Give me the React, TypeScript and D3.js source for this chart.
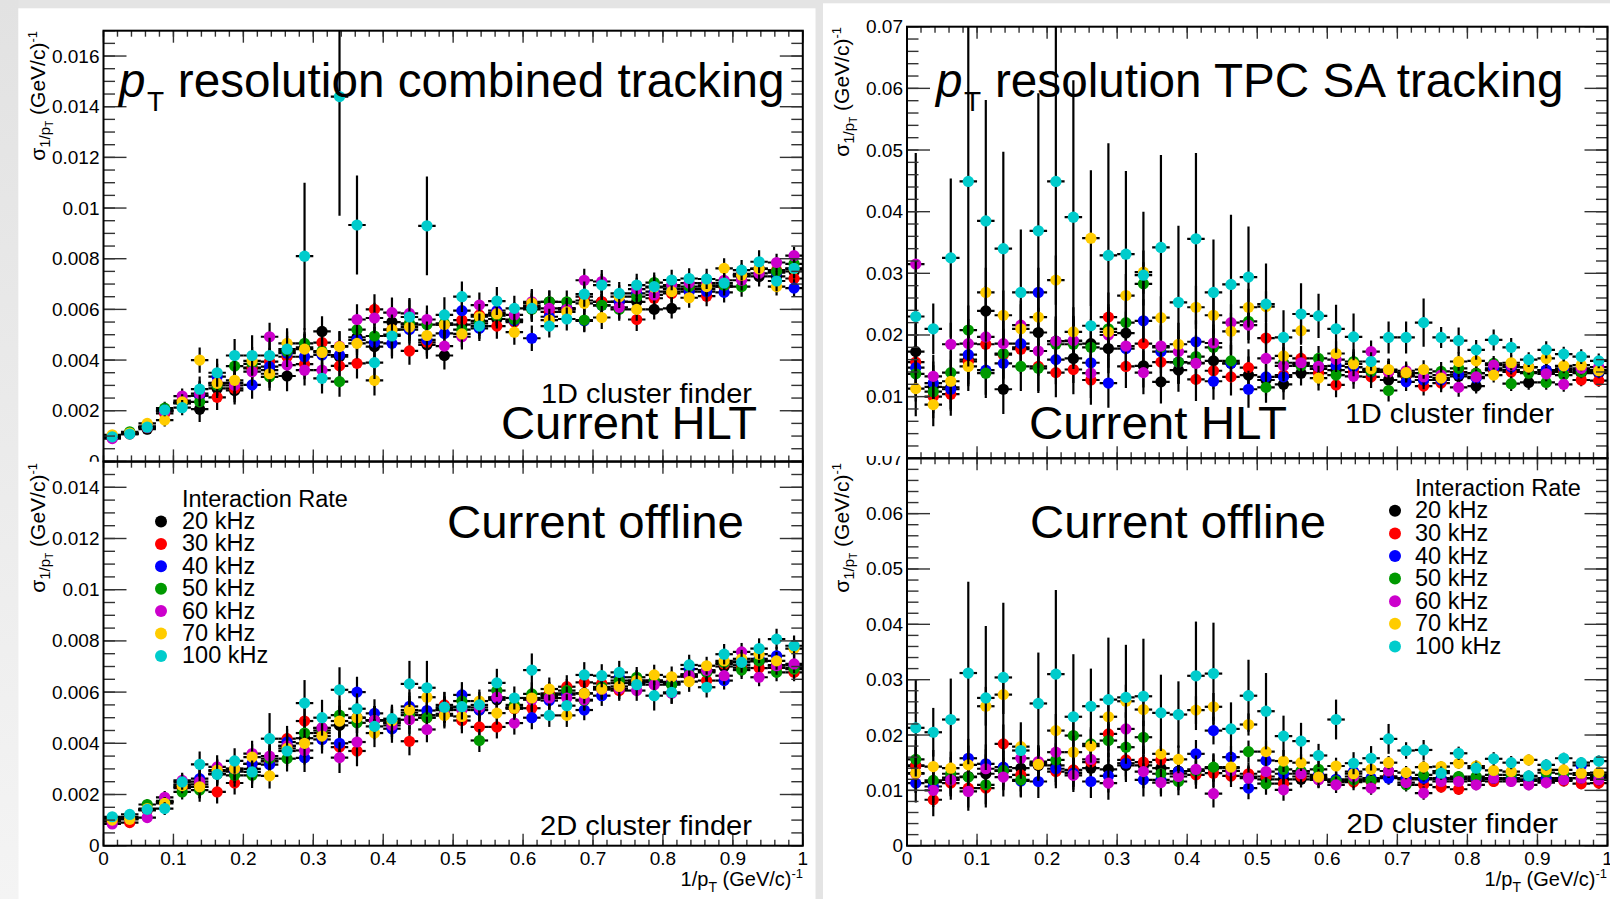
import React from 'react';
import * as d3 from 'd3';

const W = 1610;
const H = 899;
const FONT = '"Liberation Sans", Arial, Helvetica, sans-serif';

const rates = ['20 kHz', '30 kHz', '40 kHz', '50 kHz', '60 kHz', '70 kHz', '100 kHz'];
const rateColors = ['#000000', '#ff0000', '#0000ff', '#009900', '#cc00cc', '#ffcc00', '#00cccc'];
const binWidth = 0.025;

// rows = 1/pT bins (0.025 wide), columns = rates (20,30,40,50,60,70,100 kHz), units of 1e-3
const combinedHlt = [
  [0.95, 0.93, 0.94, 0.96, 0.90, 1.05, 0.97],
  [1.10, 1.08, 1.10, 1.17, 1.10, 1.12, 1.08],
  [1.27, 1.33, 1.35, 1.38, 1.36, 1.50, 1.35],
  [2.00, 1.89, 2.00, 2.10, 1.96, 1.63, 2.03],
  [2.30, 2.40, 2.30, 2.30, 2.58, 2.35, 2.12],
  [2.06, 2.60, 2.60, 2.35, 2.68, 4.00, 2.85],
  [2.88, 2.53, 3.35, 3.00, 3.10, 3.08, 3.50],
  [2.80, 2.88, 3.10, 3.76, 3.00, 3.20, 4.18],
  [3.67, 3.70, 3.02, 3.85, 3.54, 3.97, 4.18],
  [3.60, 3.94, 3.74, 3.34, 4.92, 3.46, 4.18],
  [3.37, 4.13, 4.27, 4.35, 3.80, 4.66, 4.43],
  [4.50, 3.84, 4.13, 4.66, 3.60, 4.43, 8.10],
  [5.13, 4.69, 4.20, 4.35, 3.60, 4.30, 3.28],
  [4.13, 3.77, 4.20, 3.15, 4.55, 4.53, 14.4],
  [4.90, 3.87, 4.80, 5.20, 5.60, 4.66, 9.33],
  [4.53, 6.00, 4.70, 4.95, 5.66, 3.20, 3.90],
  [5.50, 5.20, 4.66, 5.00, 5.87, 5.20, 4.95],
  [5.40, 4.36, 5.20, 5.45, 5.84, 5.30, 5.70],
  [4.60, 4.70, 4.80, 5.40, 5.60, 4.97, 9.30],
  [4.18, 5.40, 5.05, 5.45, 4.55, 5.40, 5.78],
  [5.40, 5.58, 5.95, 5.20, 4.92, 5.03, 6.50],
  [5.55, 5.78, 5.25, 5.45, 6.17, 5.71, 5.34],
  [5.62, 5.34, 5.95, 5.75, 5.85, 5.82, 6.33],
  [5.58, 5.50, 5.55, 5.60, 5.78, 5.10, 6.04],
  [6.10, 6.15, 4.86, 6.00, 6.30, 6.25, 6.04],
  [6.30, 5.90, 5.71, 6.30, 6.04, 5.58, 5.34],
  [6.00, 6.05, 6.04, 6.30, 6.00, 5.90, 5.62],
  [6.35, 6.50, 5.55, 5.58, 7.15, 6.24, 6.60],
  [6.30, 6.30, 6.16, 6.16, 7.10, 5.68, 6.96],
  [6.30, 6.30, 6.30, 6.00, 6.08, 6.50, 6.63],
  [6.30, 5.60, 6.63, 6.50, 6.80, 6.00, 6.96],
  [6.00, 6.44, 6.70, 7.06, 6.57, 6.87, 6.90],
  [6.04, 6.63, 6.80, 6.90, 6.96, 6.70, 7.16],
  [6.80, 6.80, 6.70, 6.90, 7.04, 6.46, 7.22],
  [6.80, 6.52, 6.70, 6.95, 7.04, 6.90, 7.20],
  [6.90, 6.90, 6.67, 6.95, 7.15, 7.62, 7.04],
  [7.30, 7.40, 7.35, 6.90, 7.15, 7.35, 7.55],
  [7.30, 7.60, 7.60, 7.60, 7.42, 7.60, 7.88],
  [7.30, 7.55, 7.45, 7.50, 7.85, 6.90, 7.12],
  [7.50, 7.22, 6.84, 7.80, 8.12, 7.60, 7.62],
];
const combinedHltErr = [0.12, 0.15, 0.2, 0.25, 0.3, 0.5, 0.5, 0.55, 0.55, 0.55, 0.6, 0.6, 0.6, 0.6, 0.6, 0.6, 0.6, 0.55, 0.55, 0.55, 0.5, 0.5, 0.5, 0.5, 0.5, 0.45, 0.45, 0.45, 0.45, 0.45, 0.45, 0.4, 0.4, 0.4, 0.4, 0.4, 0.4, 0.4, 0.35, 0.35];
const combinedHltErr100 = [0.15, 0.15, 0.2, 0.25, 0.3, 0.5, 0.55, 0.65, 0.8, 0.7, 0.7, 2.9, 0.6, 4.7, 1.95, 0.65, 0.8, 0.75, 1.95, 0.7, 0.6, 0.5, 0.55, 0.5, 0.5, 0.45, 0.45, 0.5, 0.45, 0.45, 0.45, 0.45, 0.4, 0.4, 0.4, 0.4, 0.4, 0.45, 0.4, 0.4];

// units of 1e-3
const combinedOffline = [
  [1.05, 0.94, 1.05, 1.08, 0.85, 1.00, 1.13],
  [1.10, 0.90, 1.10, 1.12, 1.05, 1.03, 1.22],
  [1.38, 1.40, 1.42, 1.61, 1.10, 1.45, 1.42],
  [1.70, 1.72, 1.72, 1.75, 1.89, 1.65, 1.45],
  [2.30, 2.25, 2.40, 2.10, 2.55, 2.35, 2.49],
  [2.30, 2.40, 2.62, 2.17, 2.50, 2.30, 3.18],
  [2.80, 2.10, 2.90, 2.80, 3.08, 2.95, 2.79],
  [2.90, 2.45, 2.90, 2.75, 3.00, 3.01, 3.31],
  [3.00, 3.20, 3.20, 2.75, 3.60, 3.46, 2.88],
  [3.30, 3.30, 3.17, 3.40, 3.50, 2.73, 4.18],
  [3.90, 4.18, 4.05, 3.40, 3.90, 3.80, 3.70],
  [4.20, 4.87, 3.43, 4.40, 3.72, 4.00, 5.57],
  [4.60, 4.40, 4.15, 4.50, 4.60, 4.28, 5.00],
  [4.70, 3.85, 4.00, 5.10, 3.44, 4.87, 6.09],
  [5.00, 3.70, 6.00, 4.80, 4.05, 5.00, 5.35],
  [4.90, 4.90, 5.17, 4.90, 4.90, 4.40, 4.66],
  [4.90, 4.80, 4.57, 4.80, 4.70, 4.88, 4.96],
  [5.20, 4.08, 5.44, 5.10, 4.92, 5.30, 6.32],
  [5.10, 5.00, 5.28, 5.00, 4.54, 5.80, 6.17],
  [5.30, 5.50, 5.35, 5.30, 5.15, 5.08, 5.41],
  [5.40, 4.89, 5.89, 5.65, 5.30, 5.05, 5.43],
  [5.30, 4.64, 5.30, 4.11, 5.40, 5.65, 5.50],
  [5.70, 4.64, 5.77, 6.06, 5.80, 5.18, 6.36],
  [5.40, 5.35, 5.40, 5.50, 4.79, 5.37, 5.77],
  [5.75, 5.37, 5.00, 5.93, 5.70, 5.77, 6.86],
  [5.90, 5.95, 5.67, 5.85, 5.77, 6.12, 5.09],
  [5.95, 6.21, 5.90, 6.06, 5.77, 5.09, 5.47],
  [5.95, 6.38, 5.30, 5.67, 5.70, 5.95, 6.67],
  [6.15, 6.34, 5.86, 6.20, 6.10, 6.12, 6.64],
  [6.35, 6.06, 6.58, 6.45, 6.13, 6.22, 6.77],
  [6.35, 6.40, 6.45, 6.58, 6.06, 6.45, 6.29],
  [6.40, 6.45, 6.40, 6.45, 6.29, 6.67, 5.86],
  [6.30, 6.40, 6.35, 6.30, 5.95, 6.60, 5.99],
  [6.60, 6.62, 6.90, 6.70, 6.65, 6.41, 7.06],
  [6.80, 6.45, 6.85, 6.77, 6.85, 7.03, 6.19],
  [7.00, 7.10, 6.45, 7.15, 6.64, 7.22, 7.48],
  [7.05, 6.95, 7.20, 6.86, 7.57, 7.30, 7.16],
  [7.20, 6.94, 7.30, 7.22, 6.58, 7.48, 7.70],
  [7.05, 6.95, 7.42, 6.77, 7.03, 7.22, 8.07],
  [6.95, 6.77, 7.05, 6.90, 7.10, 7.70, 7.81],
];
const combinedOfflineErr = [0.12, 0.15, 0.2, 0.25, 0.3, 0.45, 0.45, 0.45, 0.5, 0.5, 0.5, 0.55, 0.55, 0.6, 0.6, 0.55, 0.55, 0.55, 0.5, 0.5, 0.5, 0.45, 0.45, 0.45, 0.45, 0.45, 0.45, 0.4, 0.4, 0.4, 0.4, 0.4, 0.4, 0.4, 0.35, 0.35, 0.35, 0.35, 0.35, 0.35];
const combinedOfflineErr100 = [0.15, 0.15, 0.2, 0.25, 0.3, 0.5, 0.4, 0.5, 0.45, 1.0, 0.6, 0.9, 0.7, 0.88, 0.6, 0.5, 0.55, 0.9, 1.05, 0.6, 0.5, 0.5, 0.55, 0.45, 0.65, 0.45, 0.45, 0.5, 0.45, 0.45, 0.45, 0.58, 0.45, 0.4, 0.4, 0.4, 0.4, 0.4, 0.4, 0.4];

// units of 1e-2
const tpcHlt = [
  [1.73, 1.56, 1.47, 1.37, 3.15, 1.13, 2.30],
  [1.16, 1.00, 1.22, 1.08, 1.33, 0.87, 2.10],
  [1.15, 1.04, 1.12, 1.39, 1.85, 1.25, 3.25],
  [1.60, 1.57, 1.68, 2.08, 1.86, 1.49, 4.49],
  [2.39, 1.85, 1.43, 1.38, 1.97, 2.69, 3.85],
  [1.12, 1.68, 1.54, 1.70, 1.86, 2.32, 3.40],
  [1.80, 1.77, 1.86, 1.49, 2.16, 2.10, 2.69],
  [2.04, 1.49, 2.69, 1.46, 1.74, 2.29, 3.69],
  [1.90, 1.39, 1.60, 1.85, 1.90, 2.89, 4.49],
  [1.62, 1.44, 1.90, 1.85, 1.91, 2.05, 3.91],
  [1.86, 1.27, 1.55, 1.80, 1.38, 3.57, 2.15],
  [1.78, 2.29, 1.22, 2.10, 2.00, 2.05, 3.29],
  [2.03, 1.49, 1.78, 2.20, 1.82, 2.64, 3.31],
  [1.50, 1.86, 2.23, 2.83, 1.39, 3.02, 2.97],
  [1.24, 1.56, 1.73, 1.80, 1.82, 2.28, 3.42],
  [1.43, 1.56, 1.56, 1.56, 1.73, 1.85, 2.53],
  [1.55, 1.28, 1.89, 1.65, 1.54, 2.45, 3.56],
  [1.58, 1.42, 1.25, 1.80, 1.87, 2.32, 2.69],
  [1.54, 1.32, 1.54, 1.58, 2.20, 2.06, 2.82],
  [1.35, 1.47, 1.12, 2.22, 2.16, 2.45, 2.94],
  [1.27, 1.95, 1.32, 1.15, 1.62, 2.46, 2.50],
  [1.20, 1.35, 1.32, 1.55, 1.50, 1.66, 1.96],
  [1.38, 1.62, 1.53, 1.50, 1.55, 2.07, 2.34],
  [1.45, 1.38, 1.49, 1.62, 1.49, 1.30, 2.31],
  [1.43, 1.19, 1.50, 1.35, 1.60, 1.70, 2.10],
  [1.48, 1.40, 1.48, 1.57, 1.33, 1.53, 1.97],
  [1.43, 1.32, 1.40, 1.41, 1.73, 1.45, 1.57],
  [1.27, 1.40, 1.43, 1.10, 1.40, 1.44, 1.96],
  [1.33, 1.35, 1.24, 1.38, 1.42, 1.39, 1.96],
  [1.27, 1.17, 1.27, 1.38, 1.32, 1.44, 2.20],
  [1.27, 1.22, 1.27, 1.41, 1.35, 1.30, 1.96],
  [1.33, 1.40, 1.36, 1.46, 1.15, 1.57, 1.91],
  [1.17, 1.38, 1.30, 1.38, 1.32, 1.58, 1.76],
  [1.43, 1.43, 1.46, 1.54, 1.51, 1.35, 1.92],
  [1.43, 1.40, 1.48, 1.21, 1.51, 1.55, 1.80],
  [1.23, 1.40, 1.48, 1.38, 1.48, 1.48, 1.60],
  [1.43, 1.40, 1.43, 1.23, 1.37, 1.62, 1.76],
  [1.43, 1.40, 1.46, 1.35, 1.20, 1.50, 1.69],
  [1.38, 1.27, 1.43, 1.40, 1.46, 1.51, 1.65],
  [1.38, 1.26, 1.40, 1.43, 1.48, 1.42, 1.58],
];
const tpcHltErr = [0.45, 0.35, 0.35, 0.4, 0.4, 0.4, 0.4, 0.4, 0.4, 0.4, 0.4, 0.4, 0.35, 0.35, 0.35, 0.35, 0.35, 0.3, 0.3, 0.3, 0.25, 0.25, 0.2, 0.2, 0.2, 0.2, 0.18, 0.18, 0.15, 0.15, 0.15, 0.15, 0.12, 0.12, 0.12, 0.12, 0.12, 0.12, 0.1, 0.1];
const tpcHltErr100 = [0.9, 0.41, 1.29, 3.0, 1.96, 1.57, 1.02, 2.23, 3.0, 2.22, 0.9, 1.82, 1.35, 1.03, 1.5, 1.24, 1.39, 0.86, 1.13, 0.82, 0.66, 0.44, 0.5, 0.36, 0.39, 0.38, 0.15, 0.26, 0.26, 0.39, 0.17, 0.21, 0.16, 0.17, 0.15, 0.12, 0.14, 0.12, 0.12, 0.12];
// [rate index, bin, error] for the few other wide bars
const tpcHltErrExtra = [[4, 0, 1.8], [5, 10, 1.1]];

// units of 1e-2
const tpcOffline = [
  [1.45, 1.44, 1.13, 1.56, 1.30, 1.31, 2.13],
  [1.15, 0.83, 1.07, 1.18, 1.00, 1.43, 2.05],
  [1.23, 1.13, 1.20, 1.30, 1.19, 1.40, 2.28],
  [1.25, 1.04, 1.58, 1.24, 0.98, 1.46, 3.12],
  [1.30, 1.04, 1.48, 1.10, 1.39, 2.52, 2.67],
  [1.35, 1.84, 1.42, 1.36, 1.24, 2.73, 3.04],
  [1.40, 1.28, 1.17, 1.19, 1.58, 1.79, 1.72],
  [1.45, 1.47, 1.16, 1.50, 1.52, 1.47, 2.57],
  [1.45, 1.34, 1.39, 1.55, 1.69, 2.08, 3.10],
  [1.36, 1.37, 1.31, 1.99, 1.27, 1.69, 2.33],
  [1.40, 1.51, 1.16, 1.84, 1.56, 1.80, 2.52],
  [1.38, 2.02, 1.26, 1.90, 1.13, 2.33, 2.64],
  [1.45, 1.55, 1.49, 1.78, 2.11, 2.61, 2.68],
  [1.45, 1.51, 1.19, 1.96, 1.34, 2.46, 2.70],
  [1.40, 1.55, 1.19, 1.30, 1.14, 1.66, 2.40],
  [1.35, 1.30, 1.34, 1.16, 1.25, 1.56, 2.37],
  [1.35, 1.28, 1.66, 1.35, 1.38, 2.45, 3.07],
  [1.40, 1.31, 2.08, 1.42, 0.94, 2.51, 3.11],
  [1.40, 1.26, 1.60, 1.35, 1.35, 1.42, 2.11],
  [1.25, 1.30, 1.04, 1.70, 1.22, 2.19, 2.71],
  [1.20, 1.25, 1.54, 1.12, 1.34, 1.70, 2.43],
  [1.20, 1.12, 1.30, 1.38, 1.01, 1.53, 1.98],
  [1.20, 1.25, 1.34, 1.35, 1.30, 1.50, 1.89],
  [1.20, 1.22, 1.28, 1.38, 1.19, 1.24, 1.63],
  [1.18, 1.15, 1.20, 1.17, 1.10, 1.44, 2.28],
  [1.20, 1.15, 1.34, 1.19, 1.25, 1.30, 1.49],
  [1.20, 1.16, 1.22, 1.18, 1.04, 1.38, 1.58],
  [1.25, 1.25, 1.22, 1.35, 1.35, 1.50, 1.93],
  [1.22, 1.20, 1.22, 1.10, 1.14, 1.32, 1.72],
  [1.20, 1.10, 1.22, 1.28, 0.95, 1.42, 1.73],
  [1.22, 1.06, 1.20, 1.35, 1.16, 1.43, 1.31],
  [1.20, 1.02, 1.22, 1.25, 1.16, 1.49, 1.67],
  [1.17, 1.20, 1.22, 1.25, 1.10, 1.44, 1.40],
  [1.20, 1.16, 1.22, 1.28, 1.22, 1.36, 1.57],
  [1.20, 1.20, 1.22, 1.28, 1.16, 1.34, 1.50],
  [1.17, 1.17, 1.20, 1.25, 1.10, 1.55, 1.26],
  [1.17, 1.20, 1.22, 1.32, 1.14, 1.37, 1.46],
  [1.20, 1.17, 1.22, 1.30, 1.19, 1.37, 1.58],
  [1.22, 1.12, 1.45, 1.28, 1.22, 1.31, 1.50],
  [1.22, 1.13, 1.25, 1.28, 1.19, 1.32, 1.53],
];
const tpcOfflineErr = [0.35, 0.3, 0.3, 0.35, 0.35, 0.35, 0.3, 0.3, 0.3, 0.3, 0.3, 0.3, 0.3, 0.3, 0.25, 0.25, 0.25, 0.25, 0.2, 0.2, 0.2, 0.2, 0.15, 0.15, 0.15, 0.15, 0.12, 0.12, 0.12, 0.12, 0.1, 0.1, 0.1, 0.1, 0.1, 0.1, 0.1, 0.1, 0.1, 0.1];
const tpcOfflineErr100 = [0.88, 0.44, 0.74, 1.65, 1.3, 1.35, 0.51, 0.92, 1.52, 1.13, 0.68, 1.12, 0.95, 1.04, 0.69, 0.6, 0.98, 0.92, 0.48, 0.65, 0.69, 0.37, 0.33, 0.21, 0.36, 0.2, 0.22, 0.27, 0.15, 0.18, 0.12, 0.12, 0.12, 0.12, 0.12, 0.1, 0.1, 0.1, 0.1, 0.1];

const fmt = (v) => (v === 0 ? '0' : String(parseFloat(v.toFixed(4))));

function Panel({ cfg }) {
  const { id, x0, x1, yTop, yBottom, yMax, yMajor, yMinor, unit, table, err, err100, extra, xLabels, labelClip } = cfg;
  const x = d3.scaleLinear().domain([0, 1]).range([x0, x1]);
  const y = d3.scaleLinear().domain([0, yMax]).range([yBottom, yTop]);
  const minorY = d3.range(Math.round(yMax / yMinor) + 1).map((k) => k * yMinor);
  const majorY = d3.range(Math.floor(yMax / yMajor + 1e-6) + 1).map((k) => k * yMajor);
  const minorX = d3.range(51).map((k) => k * 0.02);
  const majorX = d3.range(11).map((k) => k * 0.1);
  const tk = { stroke: '#333', strokeWidth: 1.4 };

  const errOf = (s, i) => {
    const hit = (extra || []).find((e) => e[0] === s && e[1] === i);
    if (hit) return hit[2];
    return s === rates.length - 1 ? err100[i] : err[i];
  };

  return (
    <g>
      <defs>
        <clipPath id={`frame-${id}`}>
          <rect x={x0} y={yTop} width={x1 - x0} height={yBottom - yTop} />
        </clipPath>
        <clipPath id={`lab-${id}`}>
          <rect x={0} y={labelClip[0]} width={W} height={labelClip[1] - labelClip[0]} />
        </clipPath>
      </defs>
      <g clipPath={`url(#frame-${id})`}>
        {rates.map((r, s) => (
          <g key={r}>
            {table.map((row, i) => {
              const c = (i + 0.5) * binWidth;
              const v = row[s] * unit;
              const e = errOf(s, i) * unit;
              return (
                <g key={i}>
                  <line x1={x(c)} x2={x(c)} y1={y(v - e)} y2={y(v + e)} stroke="#000" strokeWidth={2.2} />
                  <line x1={x(c - binWidth / 2)} x2={x(c + binWidth / 2)} y1={y(v)} y2={y(v)} stroke="#000" strokeWidth={2.2} />
                  <circle cx={x(c)} cy={y(v)} r={5.6} fill={rateColors[s]} />
                </g>
              );
            })}
          </g>
        ))}
      </g>
      {minorY.map((v, k) => (
        <g key={`my${k}`}>
          <line x1={x0} x2={x0 + 11.5} y1={y(v)} y2={y(v)} {...tk} />
          <line x1={x1} x2={x1 - 11.5} y1={y(v)} y2={y(v)} {...tk} />
        </g>
      ))}
      {majorY.map((v, k) => (
        <g key={`My${k}`}>
          <line x1={x0} x2={x0 + 23} y1={y(v)} y2={y(v)} {...tk} />
          <line x1={x1} x2={x1 - 23} y1={y(v)} y2={y(v)} {...tk} />
        </g>
      ))}
      {minorX.map((v, k) => (
        <g key={`mx${k}`}>
          <line x1={x(v)} x2={x(v)} y1={yBottom} y2={yBottom - 6} {...tk} />
          <line x1={x(v)} x2={x(v)} y1={yTop} y2={yTop + 6} {...tk} />
        </g>
      ))}
      {majorX.map((v, k) => (
        <g key={`Mx${k}`}>
          <line x1={x(v)} x2={x(v)} y1={yBottom} y2={yBottom - 12} {...tk} />
          <line x1={x(v)} x2={x(v)} y1={yTop} y2={yTop + 12} {...tk} />
        </g>
      ))}
      <rect x={x0} y={yTop} width={x1 - x0} height={yBottom - yTop} fill="none" stroke="#000" strokeWidth={2} />
      <g clipPath={`url(#lab-${id})`} fontFamily={FONT} fontSize={19} textAnchor="end">
        {majorY.map((v, k) => (
          <text key={`ly${k}`} x={x0 - 4} y={y(v) + 6.5}>{fmt(v)}</text>
        ))}
      </g>
      {xLabels && (
        <g fontFamily={FONT} fontSize={19} textAnchor="middle">
          {majorX.map((v, k) => (
            <text key={`lx${k}`} x={x(v)} y={865}>{String(parseFloat(v.toFixed(1)))}</text>
          ))}
        </g>
      )}
    </g>
  );
}

function YTitle({ x, yEnd }) {
  return (
    <text transform={`translate(${x},${yEnd}) rotate(-90)`} textAnchor="end" fontFamily={FONT} fontSize={21}>
      <tspan>σ</tspan>
      <tspan dy={5} fontSize={15}>1/p</tspan>
      <tspan dy={3} fontSize={10}>T</tspan>
      <tspan dy={-8} fontSize={21}>{'  (GeV/c)'}</tspan>
      <tspan dy={-8} fontSize={13}>-1</tspan>
    </text>
  );
}

function XTitle({ xEnd }) {
  return (
    <text x={xEnd} y={886} textAnchor="end" fontFamily={FONT} fontSize={20}>
      1/p
      <tspan dy={6} fontSize={14}>T</tspan>
      <tspan dy={-6}>{' (GeV/c)'}</tspan>
      <tspan dy={-8} fontSize={13}>-1</tspan>
    </text>
  );
}

function Title({ px, textX, textW, label }) {
  return (
    <g fontFamily={FONT}>
      <text x={px} y={97} fontSize={47.5} fontStyle="italic">p</text>
      <text x={px + 28} y={111} fontSize={28}>T</text>
      <text x={textX} y={97} fontSize={47.5} textLength={textW} lengthAdjust="spacingAndGlyphs">{label}</text>
    </g>
  );
}

function Legend({ markerX, textX, titleY, firstY, step }) {
  return (
    <g fontFamily={FONT} fontSize={23.5}>
      <text x={textX} y={titleY}>Interaction Rate</text>
      {rates.map((r, s) => (
        <g key={r}>
          <circle cx={markerX} cy={firstY + s * step - 7.5} r={6} fill={rateColors[s]} />
          <text x={textX} y={firstY + s * step}>{r}</text>
        </g>
      ))}
    </g>
  );
}

const panels = [
  { id: 'tl', x0: 103.5, x1: 802.8, yTop: 30.7, yBottom: 461.4, yMax: 0.017, yMajor: 0.002, yMinor: 0.0005, unit: 1e-3, table: combinedHlt, err: combinedHltErr, err100: combinedHltErr100, extra: [], xLabels: false, labelClip: [0, 461.7] },
  { id: 'bl', x0: 103.5, x1: 802.8, yTop: 461.7, yBottom: 845.7, yMax: 0.015, yMajor: 0.002, yMinor: 0.0005, unit: 1e-3, table: combinedOffline, err: combinedOfflineErr, err100: combinedOfflineErr100, extra: [], xLabels: true, labelClip: [455, 899] },
  { id: 'tr', x0: 907, x1: 1607.5, yTop: 26.7, yBottom: 458.3, yMax: 0.07, yMajor: 0.01, yMinor: 0.002, unit: 1e-2, table: tpcHlt, err: tpcHltErr, err100: tpcHltErr100, extra: tpcHltErrExtra, xLabels: false, labelClip: [0, 451] },
  { id: 'br', x0: 907, x1: 1607.5, yTop: 458.3, yBottom: 845.7, yMax: 0.07, yMajor: 0.01, yMinor: 0.002, unit: 1e-2, table: tpcOffline, err: tpcOfflineErr, err100: tpcOfflineErr100, extra: [], xLabels: true, labelClip: [456, 899] },
];

export default function App() {
  return (
    <svg width={W} height={H} style={{ position: 'absolute', left: 0, top: 0, display: 'block' }} xmlns="http://www.w3.org/2000/svg">
      <defs>
        <linearGradient id="leftStrip" x1="0" y1="0" x2="0" y2="1">
          <stop offset="0" stopColor="#e2e2e2" />
          <stop offset="1" stopColor="#f4f4f4" />
        </linearGradient>
      </defs>
      <rect width={W} height={H} fill="#e4e4e4" />
      <rect x={0} y={0} width={18.3} height={H} fill="url(#leftStrip)" />
      <rect x={18.3} y={8.3} width={797.2} height={H - 8.3} fill="#ffffff" />
      <rect x={823} y={3.3} width={W - 823} height={H - 3.3} fill="#ffffff" />

      {panels.map((p) => (
        <Panel key={p.id} cfg={p} />
      ))}

      <YTitle x={44.5} yEnd={31} />
      <YTitle x={44.5} yEnd={463} />
      <YTitle x={849} yEnd={27} />
      <YTitle x={849} yEnd={463} />
      <XTitle xEnd={803} />
      <XTitle xEnd={1607} />

      <Title px={119} textX={177.8} textW={606.7} label="resolution combined tracking" />
      <Title px={936} textX={995} textW={568.5} label="resolution TPC SA tracking" />

      <g fontFamily={FONT}>
        <text x={541} y={403} fontSize={27} textLength={211} lengthAdjust="spacingAndGlyphs">1D cluster finder</text>
        <text x={501} y={439} fontSize={46} textLength={256} lengthAdjust="spacingAndGlyphs">Current HLT</text>
        <text x={1345} y={423} fontSize={27} textLength={209} lengthAdjust="spacingAndGlyphs">1D cluster finder</text>
        <text x={1029} y={439} fontSize={46} textLength={258} lengthAdjust="spacingAndGlyphs">Current HLT</text>
        <text x={447} y={538} fontSize={46.5} textLength={297} lengthAdjust="spacingAndGlyphs">Current offline</text>
        <text x={1030} y={538} fontSize={46.5} textLength={296} lengthAdjust="spacingAndGlyphs">Current offline</text>
        <text x={540} y={835} fontSize={27} textLength={212} lengthAdjust="spacingAndGlyphs">2D cluster finder</text>
        <text x={1346.5} y={833} fontSize={27} textLength={211.5} lengthAdjust="spacingAndGlyphs">2D cluster finder</text>
      </g>

      <Legend markerX={161} textX={182} titleY={507} firstY={529} step={22.4} />
      <Legend markerX={1395} textX={1415} titleY={496} firstY={518.3} step={22.6} />
    </svg>
  );
}
